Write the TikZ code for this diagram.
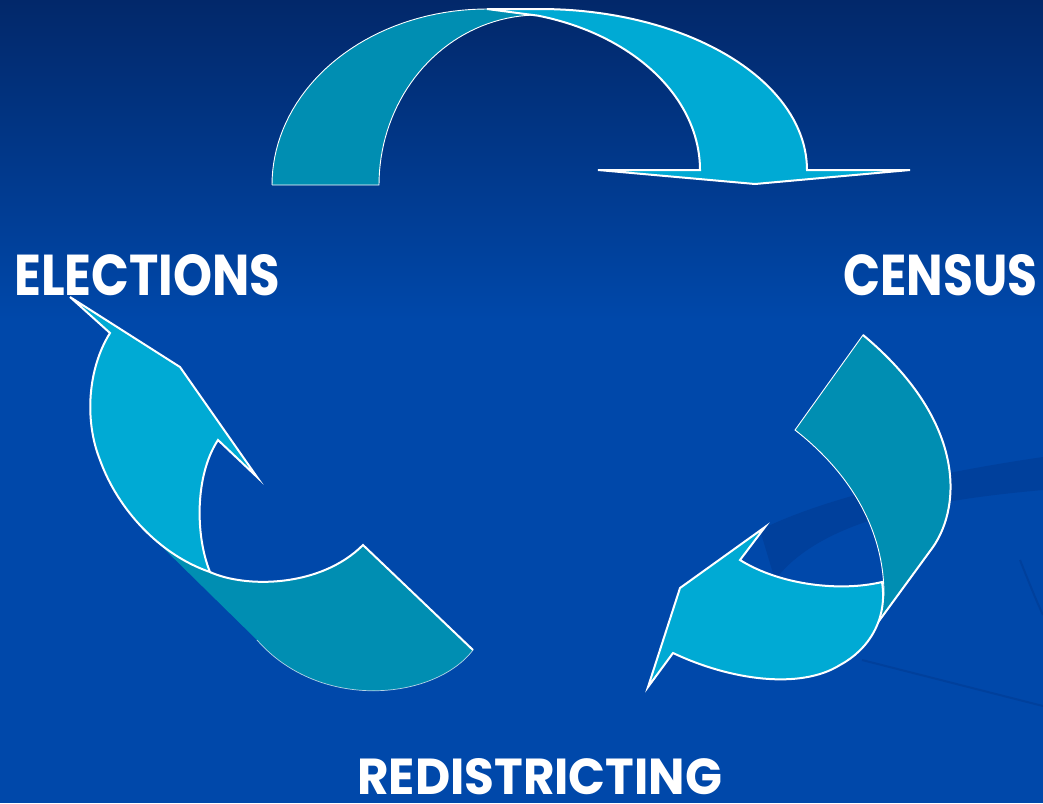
\documentclass[tikz,border=0pt]{standalone}
\usepackage{fontspec}
\setmainfont{Poppins}
\usepackage{graphicx}
\definecolor{bgtop}{RGB}{2,40,106}
\definecolor{bgmid}{RGB}{0,72,170}
\definecolor{swoosh}{RGB}{0,64,156}
\definecolor{darkteal}{RGB}{0,142,178}
\definecolor{lightcyan}{RGB}{0,170,212}
\begin{document}
\begin{tikzpicture}[x=1pt,y=-1pt,
  backfill/.style={fill=darkteal},
  backedge/.style={draw=white, line width=0.9pt, line join=miter},
  frontpiece/.style={fill=lightcyan, draw=white, line width=2pt, line join=miter},
  frontedge/.style={draw=white, line width=2pt, line join=miter},
  captext/.style={text=white, inner sep=0pt, anchor=south west, font=\bfseries}]
% background
\fill[bgmid] (0,0) rectangle (1043,803);
\shade[top color=bgtop, bottom color=bgmid] (0,0) rectangle (1043,320);
\useasboundingbox (0,0) rectangle (1043,803);
% faint swoosh
\fill[swoosh] (760,530) .. controls (820,500) and (920,475) .. (1043,457) -- (1043,490) .. controls (930,500) and (820,520) .. (775,580) -- cycle;
\draw[swoosh, line width=2pt] (862,660) -- (1043,706);
\draw[swoosh, line width=2pt] (1020,560) .. controls (1030,585) and (1036,600) .. (1043,615);

% top arrow: back piece
\path[backfill, backedge] (272,185) -- (379,185)
  -- plot[domain=180:270, samples=40, variable=\t] ({538+159*cos(\t)},{185+170*sin(\t)})
  -- (487,9)
  -- plot[domain=270:180, samples=40, variable=\t] ({487+215*cos(\t)},{185+176*sin(\t)})
  -- cycle;
% top arrow: front piece
\path[frontpiece] (487,9)
  -- plot[domain=270:360, samples=50, variable=\t] ({540+267*cos(\t)},{170+161*sin(\t)})
  -- (910,170) -- (755,184) -- (598,170) -- (700,170)
  -- plot[domain=360:285.3, samples=50, variable=\t] ({480+220*cos(\t)},{170+160*sin(\t)})
  -- cycle;

% lower-left arrow: back piece
\fill[backfill] (147,532) -- (210,572) .. controls (245,588) and (320,588) .. (363,545)
  -- (473,650) .. controls (435,700) and (320,712) .. (257,640) -- cycle;
\draw[white, line width=0.7pt, opacity=0.7] (473,650) .. controls (435,700) and (320,712) .. (257,640);
\draw[frontedge] (210,572) .. controls (245,588) and (320,588) .. (363,545) -- (473,650);
% lower-left arrow: front piece
\path[frontpiece] (70,297) -- (180,367) -- (257,477) -- (218,440)
  .. controls (195,475) and (195,535) .. (210,572)
  .. controls (160,555) and (118,510) .. (100,460)
  .. controls (84,420) and (88,368) .. (110,333) -- cycle;

% right arrow: back piece
\path[backfill, backedge] (863,335) -- (795,430) .. controls (840,465) and (884,520) .. (884,595)
  -- (868,636) -- (933,547) .. controls (962,505) and (965,420) .. (863,335) -- cycle;
\draw[frontedge] (868,636) -- (933,547) .. controls (962,505) and (965,420) .. (863,335);
% right arrow: front piece
\path[frontpiece] (740,560) .. controls (780,585) and (840,592) .. (882,582)
  .. controls (888,620) and (868,650) .. (840,665)
  .. controls (800,690) and (730,680) .. (673,653)
  -- (648,687) -- (680,588) -- (765,527) -- cycle;

% labels
\node[captext] (elections) at (14,296) {\resizebox{266pt}{41pt}{ELECTIONS}};
\node[captext] (census) at (843,296) {\resizebox{194pt}{41pt}{CENSUS}};
\node[captext] (redistricting) at (357,795) {\resizebox{365pt}{36pt}{REDISTRICTING}};
\end{tikzpicture}
\end{document}
